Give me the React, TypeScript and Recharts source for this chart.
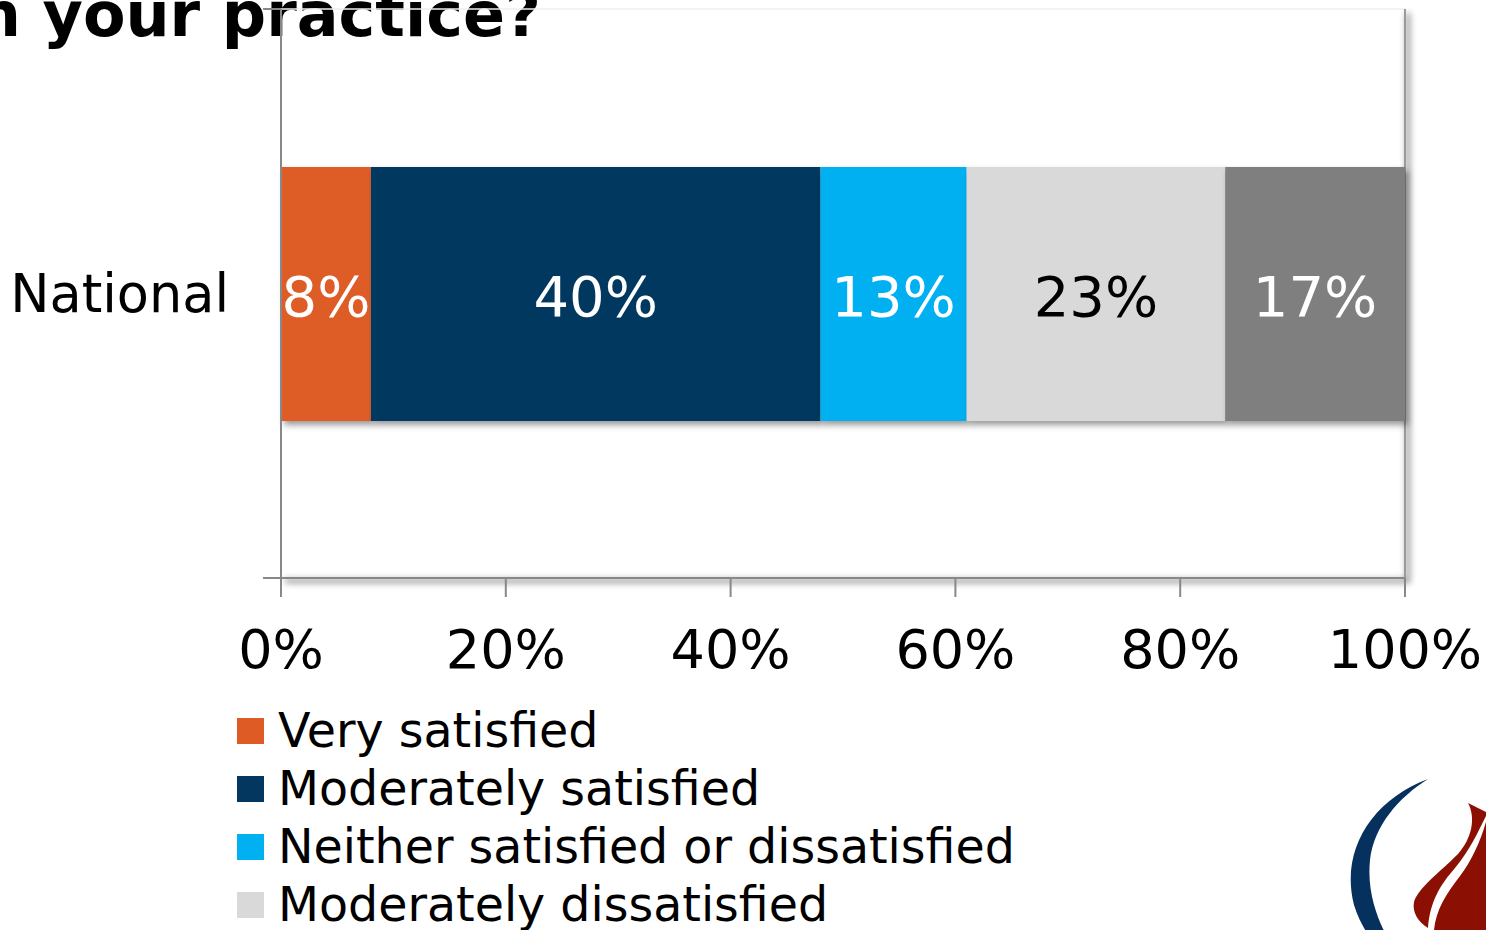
import React from 'react';
import { BarChart, Bar, XAxis, YAxis, Legend, LabelList, ReferenceArea } from 'recharts';

const CATEGORIES = ['National'];
const SERIES_KEYS = ['verySat', 'modSat', 'neither', 'modDis', 'veryDis'];
const SERIES_NAMES = [
  'Very satisfied',
  'Moderately satisfied',
  'Neither satisfied or dissatisfied',
  'Moderately dissatisfied',
  'Very dissatisfied',
];
const NATIONAL_VALUES = [8, 40, 13, 23, 16];
const NATIONAL_LABELS = ['8%', '40%', '13%', '23%', '17%'];
const X_TICKS = [0, 20, 40, 60, 80, 100];
const COLORS = ['#DE5B26', '#03375F', '#00B0F0', '#D9D9D9', '#7F7F7F'];
const LABEL_COLORS = ['#FFFFFF', '#FFFFFF', '#FFFFFF', '#000000', '#FFFFFF'];
const TITLE_TEXT = 'n your practice?';

const FONT = '"DejaVu Sans", Verdana, sans-serif';
const LABEL_SIZE = 56;

const data = CATEGORIES.map((name) => {
  const row: Record<string, string | number> = { name };
  SERIES_KEYS.forEach((k, i) => {
    row[k] = NATIONAL_VALUES[i];
  });
  return row;
});

const Frame = (props: any) => {
  const { x, y, width, height } = props;
  const r = x + width;
  const b = y + height;
  return (
    <g>
      <path
        d={`M${x + 4},${b + 3} H${r + 3} V${y + 4}`}
        fill="none"
        stroke="#000"
        strokeOpacity={0.45}
        strokeWidth={4}
        filter="url(#softBlur)"
      />
      <line x1={x} x2={r} y1={y} y2={y} stroke="#EFEFEF" strokeWidth={1.5} />
      <line x1={r} x2={r} y1={y} y2={b} stroke="#9A9A9A" strokeWidth={2} />
      <line x1={x - 18} x2={x} y1={y} y2={y} stroke="#888" strokeWidth={2} />
      <line x1={x - 18} x2={x} y1={b} y2={b} stroke="#888" strokeWidth={2} />
    </g>
  );
};

const ShadowRect = (props: any) => {
  const { x, y, width, height, fill } = props;
  return <rect x={x} y={y} width={width} height={height} fill={fill} filter="url(#barShadow)" />;
};

const makeLabel = (i: number) => (p: any) => {
  const vb = p.viewBox && typeof p.viewBox.x === 'number' ? p.viewBox : p;
  const cx = vb.x + vb.width / 2;
  const cy = vb.y + vb.height / 2;
  return (
    <text
      x={cx}
      y={cy + 0.355 * LABEL_SIZE + 2}
      textAnchor="middle"
      fill={LABEL_COLORS[i]}
      fontSize={LABEL_SIZE}
      fontFamily={FONT}
    >
      {NATIONAL_LABELS[i]}
    </text>
  );
};

const LegendContent = () => (
  <div style={{ fontFamily: FONT, fontSize: 47.5, color: '#000' }}>
    {SERIES_NAMES.map((n, i) => (
      <div
        key={n}
        style={{ display: 'flex', alignItems: 'center', height: 58, lineHeight: '58px', whiteSpace: 'nowrap' }}
      >
        <span style={{ display: 'inline-block', width: 27, height: 26, background: COLORS[i], marginRight: 14 }} />
        <span>{n}</span>
      </div>
    ))}
  </div>
);

const Logo = () => (
  <svg width={1486} height={930} style={{ position: 'absolute', left: 0, top: 0 }}>
    <path
      d="M1428,779 C1372,800 1340,850 1354,905 C1358,918 1364,928 1368,935 L1386,935 C1376,915 1367,890 1370,860 C1374,826 1398,798 1428,779 Z"
      fill="#06305E"
    />
    <path
      d="M1468,803 L1486,812 L1486,816 C1478,832 1470,850 1455,868 C1440,885 1430,902 1428,928 C1418,922 1412,912 1414,902 C1418,888 1440,872 1458,854 C1472,838 1476,818 1468,803 Z"
      fill="#8C0F04"
    />
    <path d="M1486,822 C1480,842 1472,860 1460,876 C1446,894 1436,910 1434,930 L1486,930 Z" fill="#8C0F04" />
  </svg>
);

export default function App() {
  return (
    <div style={{ position: 'absolute', left: 0, top: 0, width: 1486, height: 930, overflow: 'hidden', background: '#fff' }}>
      <svg width={0} height={0} style={{ position: 'absolute' }}>
        <defs>
          <filter id="softBlur" x="-5%" y="-5%" width="110%" height="110%">
            <feGaussianBlur stdDeviation="3" />
          </filter>
          <filter id="barShadow" x="-10%" y="-10%" width="130%" height="130%">
            <feDropShadow dx="3" dy="4" stdDeviation="3" floodColor="#000" floodOpacity="0.4" />
          </filter>
        </defs>
      </svg>
      <svg width={1486} height={930} style={{ position: 'absolute', left: 0, top: 0 }}>
        <text x={541} y={36} textAnchor="end" fontFamily={FONT} fontWeight="bold" fontSize={62} fill="#000">
          {TITLE_TEXT}
        </text>
      </svg>
      <Logo />
      <div style={{ position: 'absolute', left: 0, top: 0 }}>
        <BarChart
          width={1486}
          height={930}
          layout="vertical"
          data={data}
          margin={{ top: 9, right: 81, left: 0, bottom: 252 }}
          barSize={254}
        >
          <ReferenceArea x1={0} x2={100} shape={Frame} ifOverflow="visible" />
          <XAxis
            type="number"
            domain={[0, 100]}
            ticks={X_TICKS}
            interval={0}
            tickFormatter={(v: number) => `${v}%`}
            axisLine={{ stroke: '#888', strokeWidth: 2 }}
            tickLine={{ stroke: '#888', strokeWidth: 2 }}
            tickSize={19}
            tickMargin={33}
            height={100}
            tick={{ fill: '#000', fontSize: 54, fontFamily: FONT }}
          />
          <YAxis
            type="category"
            dataKey="name"
            width={281}
            axisLine={{ stroke: '#888', strokeWidth: 2 }}
            tickLine={false}
            tickSize={0}
            tickMargin={52}
            tick={{ fill: '#000', fontSize: 52.5, fontFamily: FONT }}
          />
          {SERIES_KEYS.map((k, i) => (
            <Bar
              key={k}
              dataKey={k}
              name={SERIES_NAMES[i]}
              stackId="a"
              fill={COLORS[i]}
              isAnimationActive={false}
              shape={ShadowRect}
            >
              <LabelList dataKey={k} position="center" content={makeLabel(i)} />
            </Bar>
          ))}
          <Legend
            content={LegendContent}
            layout="vertical"
            align="center"
            verticalAlign="bottom"
            wrapperStyle={{ position: 'absolute', left: 237, top: 702, width: 1000, height: 0, overflow: 'visible' }}
          />
        </BarChart>
      </div>
    </div>
  );
}
